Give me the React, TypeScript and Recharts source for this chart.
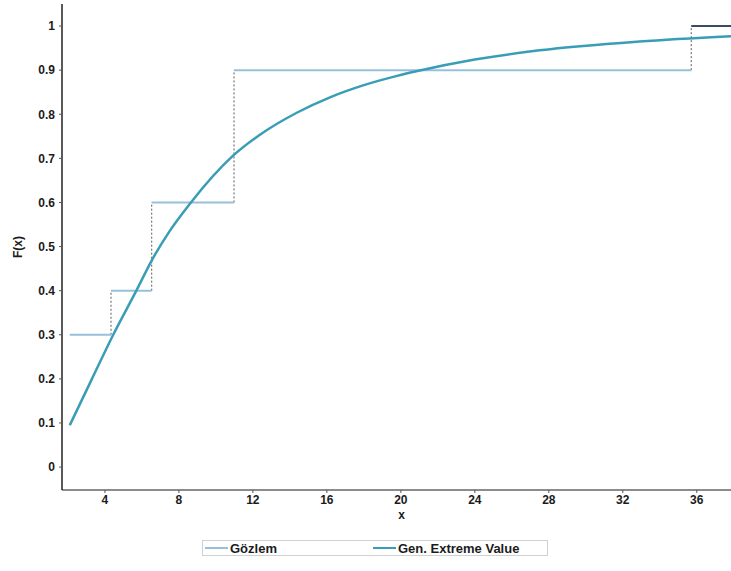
import { Line, LineChart, XAxis, YAxis } from "recharts";

// empirical CDF (observed jumps) and fitted GEV curve
const obsX = [2.1, 4.33, 6.53, 10.98, 35.7];
const obsF = [0.3, 0.4, 0.6, 0.9, 1.0];

const gevX = [2.1, 3.3, 4.45, 5.7, 6.55, 7.5, 8.65, 10.9, 12.5, 14.4, 16.2, 18, 19.8, 20.9, 24, 27.5, 32.9, 37.85];
const gevF = [0.095, 0.2, 0.3, 0.4, 0.47, 0.535, 0.6, 0.705, 0.757, 0.804, 0.839, 0.866, 0.887, 0.898, 0.924, 0.945, 0.965, 0.977];

const xTicks = [4, 8, 12, 16, 20, 24, 28, 32, 36];
const yTicks = [0, 0.1, 0.2, 0.3, 0.4, 0.5, 0.6, 0.7, 0.8, 0.9, 1];

const seriesNames = ["Gözlem", "Gen. Extreme Value"];

const X_DOMAIN: [number, number] = [1.68, 37.85];
const Y_DOMAIN: [number, number] = [-0.052, 1.05];

const OBS_COLOR = "#98c0da";
const GEV_COLOR = "#3a9db6";
const FONT = "'Liberation Sans', Arial, sans-serif";

const gevData = gevX.map((x, i) => ({ x, y: gevF[i] }));

// horizontal runs of the step function; the last one runs to the axis end
const stepRuns = obsF.map((f, i) => [
	{ x: obsX[i], y: f },
	{ x: i + 1 < obsX.length ? obsX[i + 1] : X_DOMAIN[1], y: f },
]);

// dotted risers between consecutive levels
const stepRisers = obsF.slice(1).map((f, i) => [
	{ x: obsX[i + 1], y: obsF[i] },
	{ x: obsX[i + 1], y: f },
]);

const tickStyle = { fontFamily: FONT, fontSize: 12, fontWeight: 700, fill: "#1b1b1b" };

export default function App() {
	return (
		<div style={{ position: "absolute", left: 0, top: 0, width: 731, height: 571, background: "#fff" }}>
			<LineChart width={731} height={571} margin={{ top: 4, right: 0, bottom: 46, left: 0 }}>
				<XAxis
					dataKey="x"
					type="number"
					domain={X_DOMAIN}
					ticks={xTicks}
					allowDataOverflow
					height={35}
					tick={tickStyle}
					tickSize={3}
					stroke="#555"
					axisLine={{ stroke: "#666", strokeWidth: 1.5 }}
					label={{ value: "x", position: "insideBottom", offset: 6, dx: 5, style: tickStyle }}
				/>
				<XAxis
					xAxisId="top"
					orientation="top"
					type="number"
					domain={X_DOMAIN}
					height={0}
					tick={false}
					tickLine={false}
					axisLine={{ stroke: "#9a9a9a", strokeWidth: 1.5 }}
				/>
				<YAxis
					type="number"
					domain={Y_DOMAIN}
					ticks={yTicks}
					allowDataOverflow
					width={62}
					tick={tickStyle}
					tickSize={3}
					tickMargin={4}
					stroke="#555"
					axisLine={{ stroke: "#222", strokeWidth: 1.5 }}
					tickFormatter={(v: number) => String(Math.round(v * 10) / 10)}
					label={{
						content: ({ viewBox }: any) => {
							const cy = viewBox.y + viewBox.height / 2;
							const cx = viewBox.x + 18;
							return (
								<text
									x={cx}
									y={cy}
									transform={`rotate(-90, ${cx}, ${cy})`}
									textAnchor="middle"
									dominantBaseline="central"
									style={tickStyle}
								>
									F(x)
								</text>
							);
						},
					}}
				/>
				{stepRisers.map((seg, i) => (
					<Line
						key={`riser-${i}`}
						data={seg}
						dataKey="y"
						stroke="#5a5a5a"
						strokeWidth={1}
						strokeDasharray="2 2"
						dot={false}
						isAnimationActive={false}
					/>
				))}
				{stepRuns.map((seg, i) => (
					<Line
						key={`run-${i}`}
						data={seg}
						dataKey="y"
						name={seriesNames[0]}
						stroke={i === stepRuns.length - 1 ? "#3b4b63" : OBS_COLOR}
						strokeWidth={2}
						dot={false}
						isAnimationActive={false}
					/>
				))}
				<Line
					data={gevData}
					dataKey="y"
					name={seriesNames[1]}
					type="monotone"
					stroke={GEV_COLOR}
					strokeWidth={2.5}
					dot={false}
					isAnimationActive={false}
				/>
			</LineChart>
			<div
				style={{
					position: "absolute",
					left: 202,
					top: 540,
					width: 346,
					height: 16,
					border: "1px solid #d0d0d0",
					display: "flex",
					alignItems: "center",
					fontFamily: FONT,
					fontSize: 13,
					fontWeight: 700,
					color: "#1b1b1b",
					boxSizing: "border-box",
				}}
			>
				{seriesNames.map((name, i) => (
					<div
						key={name}
						style={{ display: "flex", alignItems: "center", position: "absolute", left: i === 0 ? 2 : 170 }}
					>
						<span
							style={{
								display: "inline-block",
								width: 23,
								height: 2,
								background: i === 0 ? OBS_COLOR : GEV_COLOR,
								marginRight: 2,
							}}
						/>
						<span>{name}</span>
					</div>
				))}
			</div>
		</div>
	);
}
